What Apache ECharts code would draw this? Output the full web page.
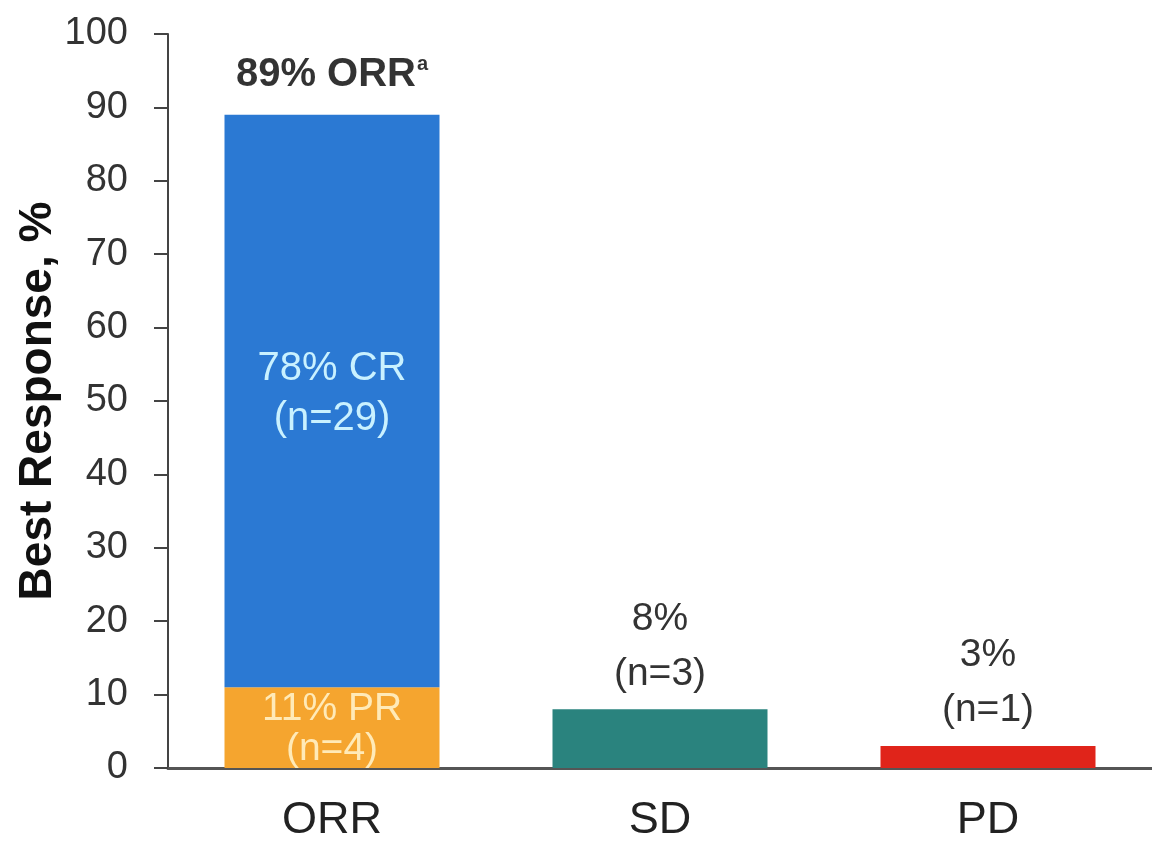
<!DOCTYPE html>
<html>
<head>
<meta charset="UTF-8">
<title>Best Response</title>
<script src="https://cdn.jsdelivr.net/npm/echarts@6/dist/echarts.min.js"></script>
<style>
html,body{margin:0;padding:0;background:#fff}
#chart{width:1152px;height:843px}
</style>
</head>
<body>
<div id="chart"></div>
<script type="text/javascript">
// data
var categories = ['ORR', 'SD', 'PD'];
var prValues = [11, '-', '-'];
var crValues = [78, '-', '-'];
var otherValues = ['-', 8, 3];
var otherColors = ['#2a837e', '#e0241a'];
var otherLabels = ['', '8%\n(n=3)', '3%\n(n=1)'];
var orrTotal = [89, '-', '-'];
var yTicks = [0, 10, 20, 30, 40, 50, 60, 70, 80, 90, 100];

var font = '"Liberation Sans", Arial, sans-serif';
var mychart = echarts.init(document.getElementById('chart'));
var option = {
	animation: false,
	backgroundColor: '#fff',
	textStyle: {fontFamily: font},
	grid: {left: 168, top: 34, width: 993, height: 735, containLabel: false},
	xAxis: {
		type: 'category',
		data: categories,
		axisLine: {lineStyle: {color: '#555', width: 3}},
		axisTick: {show: false},
		axisLabel: {color: '#222', fontSize: 45, margin: 30, fontFamily: font}
	},
	yAxis: {
		type: 'value',
		min: 0, max: 100, interval: 10,
		name: 'Best Response, %',
		nameLocation: 'middle',
		nameGap: 107,
		nameMoveOverlap: false,
		nameTextStyle: {color: '#111', fontSize: 46, fontWeight: 'bold', fontFamily: font},
		axisLine: {show: true, lineStyle: {color: '#444', width: 2}},
		axisTick: {show: true, length: 14, lineStyle: {color: '#444', width: 2}},
		splitLine: {show: false},
		axisLabel: {color: '#333', fontSize: 38, margin: 40, fontFamily: font,
			formatter: function(v){ return yTicks.indexOf(v) >= 0 ? String(v) : ''; }}
	},
	series: [
		{
			name: 'PR', type: 'bar', stack: 'r', barWidth: 215,
			data: prValues,
			itemStyle: {color: '#f5a52f'},
			label: {show: true, position: 'inside', formatter: '11% PR\n(n=4)', offset: [0, 2],
				color: '#ffeab8', fontSize: 39, lineHeight: 40, fontFamily: font}
		},
		{
			name: 'CR', type: 'bar', stack: 'r', barWidth: 215,
			data: crValues,
			itemStyle: {color: '#2b79d3'},
			label: {show: true, position: 'inside', formatter: '78% CR\n(n=29)', offset: [0, -7],
				color: '#c9f1ff', fontSize: 40, lineHeight: 50, fontFamily: font}
		},
		{
			name: 'Other', type: 'bar', stack: 'r', barWidth: 215,
			data: otherValues.map(function(v, i){
				return {value: v, itemStyle: {color: otherColors[i - 1] || '#999'}};
			}),
			label: {show: true, position: 'top', distance: 8,
				formatter: function(p){ return otherLabels[p.dataIndex]; },
				color: '#333', fontSize: 39, lineHeight: 55, fontFamily: font}
		},
		{
			name: 'ORR', type: 'scatter', symbolSize: 0,
			data: orrTotal,
			label: {show: true, position: 'top', distance: 20,
				formatter: '{b|89% ORR}{s|a}',
				rich: {
					b: {fontSize: 40, fontWeight: 'bold', color: '#000', fontFamily: font},
					s: {fontSize: 20, fontWeight: 'bold', color: '#000', fontFamily: font, verticalAlign: 'top', padding: [0, 0, 17, 1]}
				}}
		}
	]
};
mychart.setOption(option);
</script>
</body>
</html>
